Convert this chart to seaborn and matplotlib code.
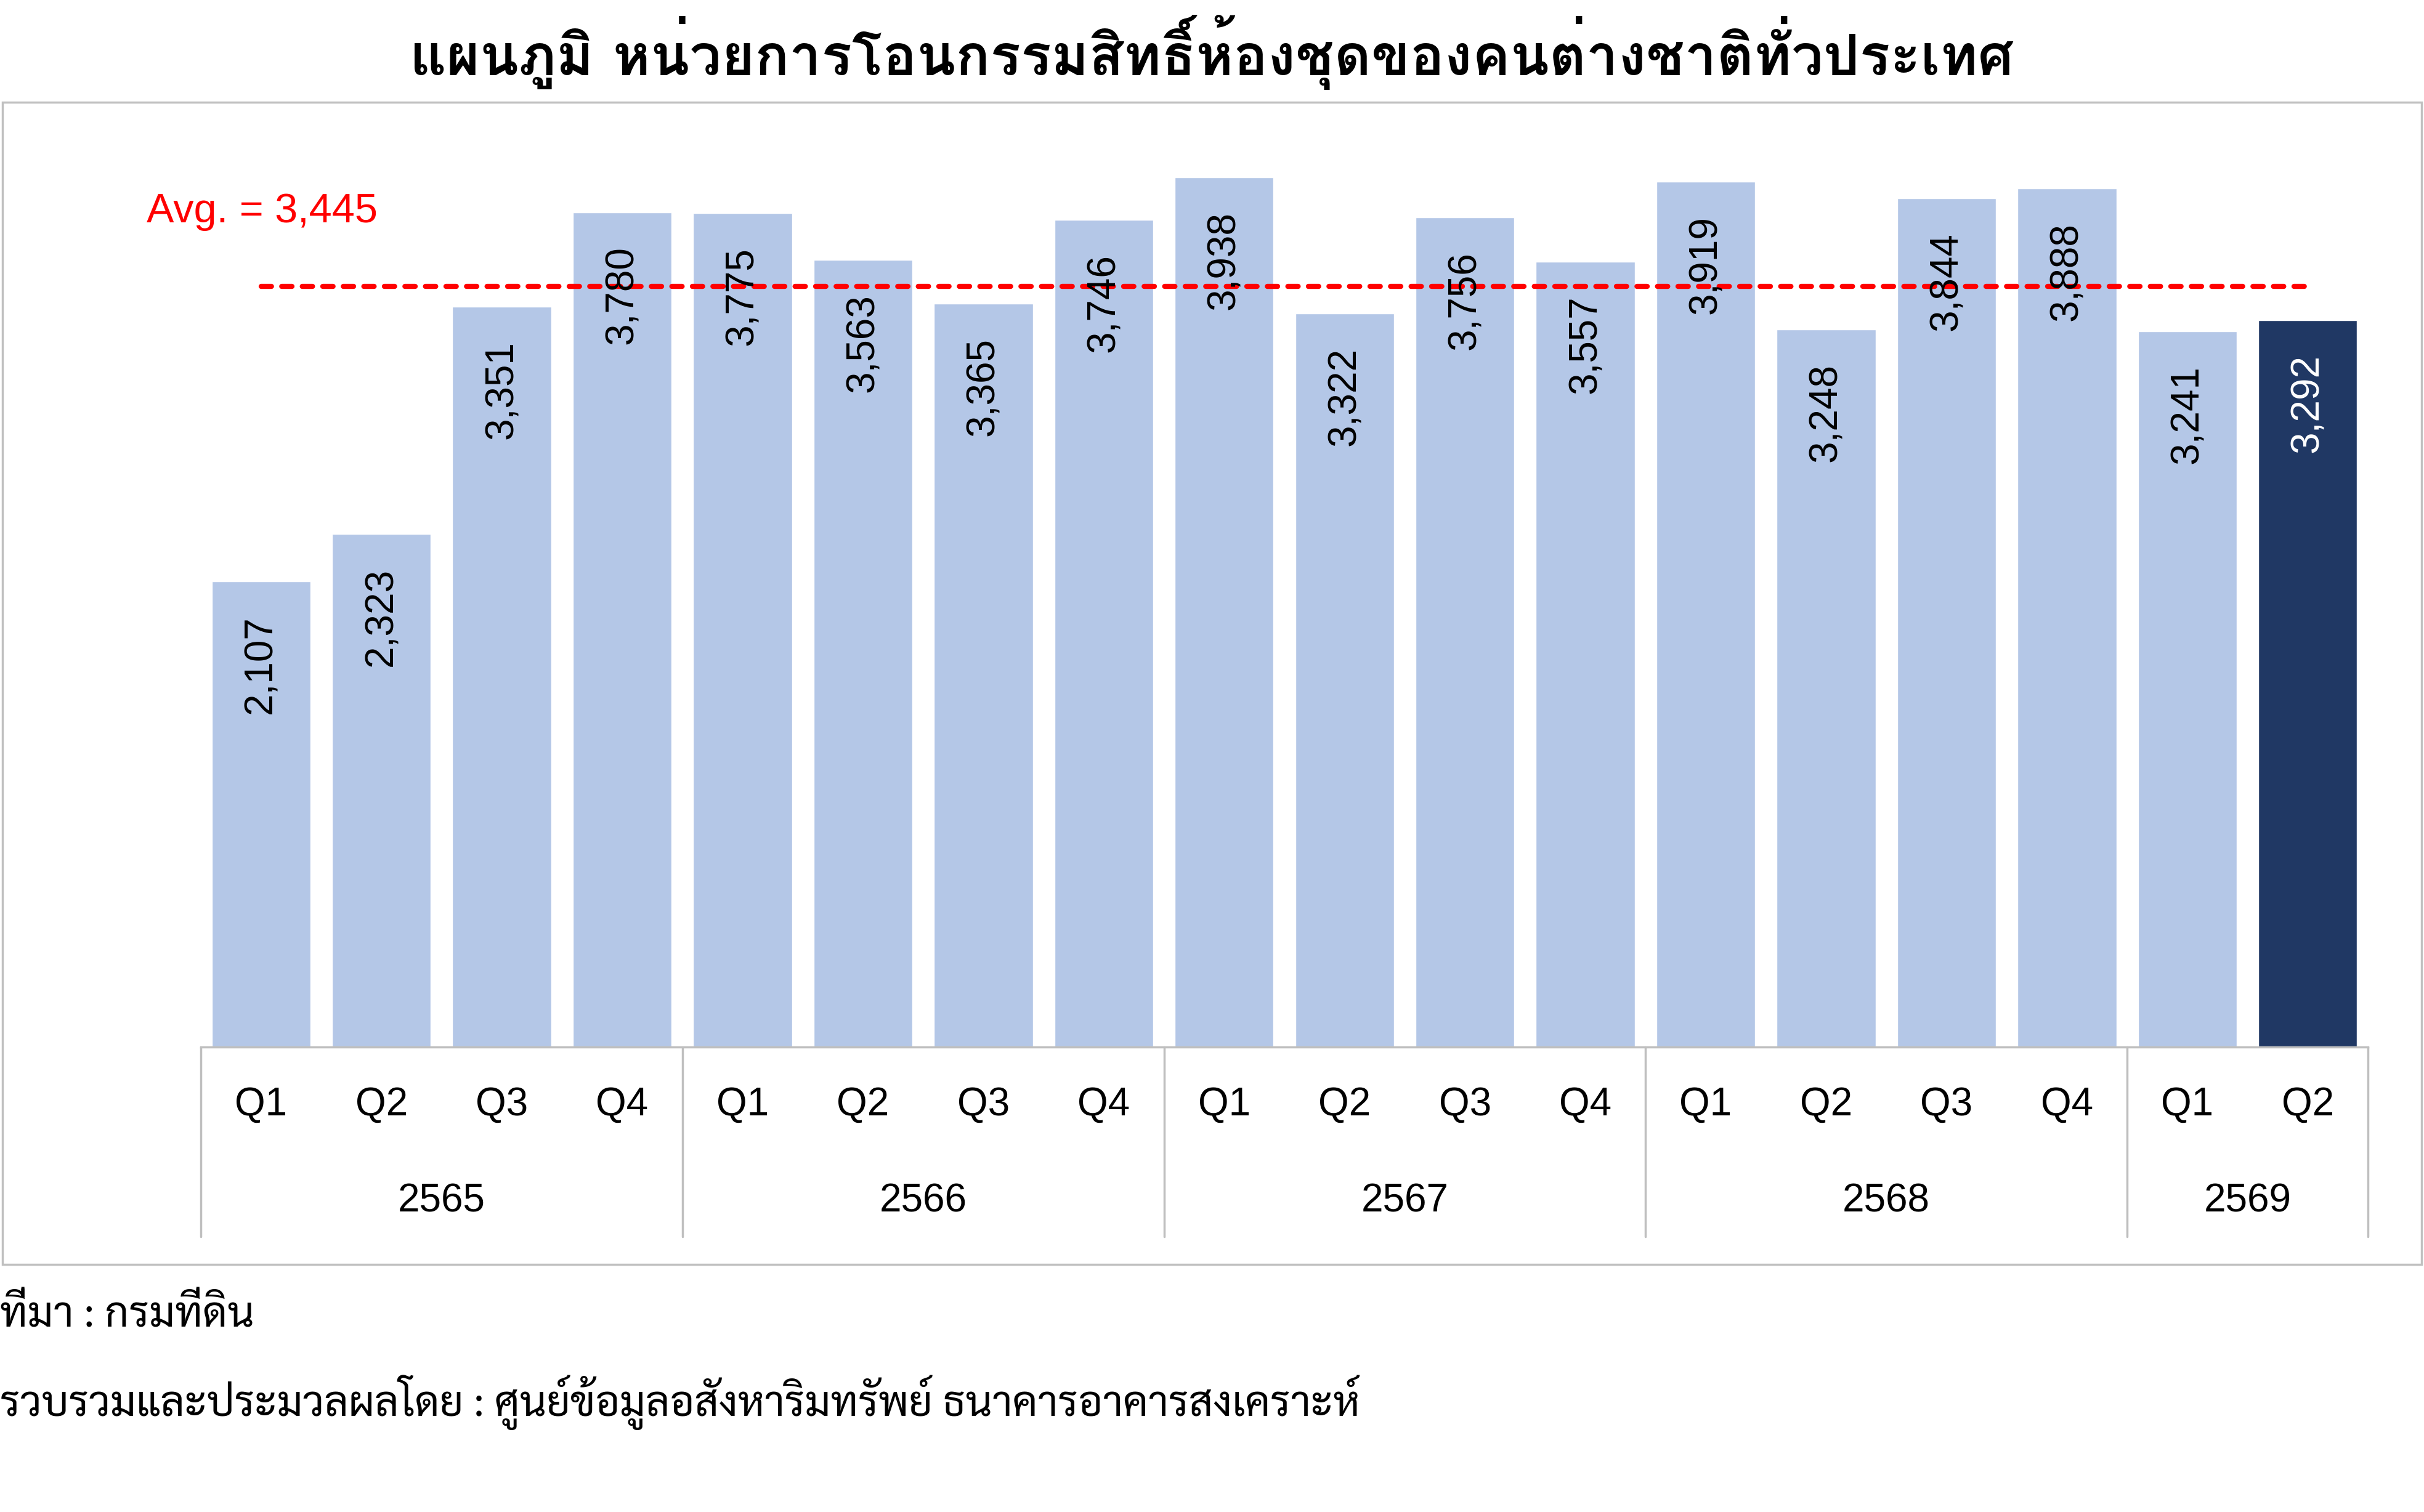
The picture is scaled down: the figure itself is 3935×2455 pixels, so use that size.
import matplotlib
matplotlib.use('Agg')
import matplotlib.pyplot as plt
import matplotlib.transforms as mtransforms
from matplotlib import font_manager
from matplotlib.patches import Rectangle
import seaborn as sns
import pandas as pd

# data
years = ['2565', '2566', '2567', '2568', '2569']
quarters = ['Q1', 'Q2', 'Q3', 'Q4', 'Q1', 'Q2', 'Q3', 'Q4', 'Q1', 'Q2', 'Q3', 'Q4',
            'Q1', 'Q2', 'Q3', 'Q4', 'Q1', 'Q2']
year_of_bar = ['2565'] * 4 + ['2566'] * 4 + ['2567'] * 4 + ['2568'] * 4 + ['2569'] * 2
units = [2107, 2323, 3351, 3780, 3775, 3563, 3365, 3746, 3938, 3322, 3756, 3557,
         3919, 3248, 3844, 3888, 3241, 3292]
avg_units = 3445

title = 'แผนภูมิ หน่วยการโอนกรรมสิทธิ์ห้องชุดของคนต่างชาติทั่วประเทศ'
source1 = 'ที่มา : กรมที่ดิน'
source2 = 'รวบรวมและประมวลผลโดย : ศูนย์ข้อมูลอสังหาริมทรัพย์ ธนาคารอาคารสงเคราะห์'

LIGHT = '#B4C7E7'
DARK = '#203864'
GRID_GRAY = '#BFBFBF'

fonts = font_manager.fontManager.ttflist
installed = set(f.name for f in fonts)
bold_ok = set(f.name for f in fonts
              if (f.weight if isinstance(f.weight, int) else 700 if 'bold' in str(f.weight) else 400) >= 700)


def pick(prefs, need_bold=False):
    for p in prefs:
        if p in installed and (not need_bold or p in bold_ok):
            return p
    return 'DejaVu Sans'


title_font = pick(['Loma', 'Noto Sans Thai Looped', 'IBM Plex Sans Thai Looped', 'Sarabun',
                   'Garuda', 'Noto Sans Thai'], need_bold=True)
note_font = pick(['Sarabun', 'Noto Sans Thai Looped', 'Loma'])

sns.set_theme(style='white')
plt.rcParams['font.family'] = ['Liberation Sans', 'DejaVu Sans']
plt.rcParams['text.color'] = 'black'

df = pd.DataFrame({'key': [f'{y} {q}' for y, q in zip(year_of_bar, quarters)],
                   'units': units})
colors = [LIGHT] * (len(units) - 1) + [DARK]

fig = plt.figure(figsize=(39.35, 24.55), dpi=100)
W, H = 3935, 2455

# outer frame of chart area
fig.patches.append(Rectangle((0.001, 1 - 2053 / H), 0.998, (2053 - 166) / H,
                             transform=fig.transFigure, fill=False,
                             edgecolor='#C0C0C0', linewidth=2.5))

ymax = 4200
ax = fig.add_axes([326 / W, 1 - 1700 / H, (3844 - 326) / W, (1700 - 194) / H])
sns.barplot(data=df, x='key', y='units', hue='key', palette=colors, legend=False,
            width=0.82, ax=ax, saturation=1)
ax.set_xlim(-0.5, len(units) - 0.5)
ax.set_ylim(0, ymax)
ax.set_xlabel('')
ax.set_ylabel('')
ax.set_xticks([])
ax.set_yticks([])
for s in ['top', 'right', 'left']:
    ax.spines[s].set_visible(False)
ax.spines['bottom'].set_color(GRID_GRAY)
ax.spines['bottom'].set_linewidth(2.5)
ax.patch.set_alpha(0)

# value labels, rotated inside the bars
off = mtransforms.offset_copy(ax.transData, fig=fig, x=0, y=-55, units='dots')
for i, v in enumerate(units):
    ax.text(i, v, f'{v:,}', rotation=90, ha='center', va='top', transform=off,
            fontsize=46, color='white' if i == len(units) - 1 else 'black')

# average line
ax.plot([0, len(units) - 1], [avg_units, avg_units], color='#FF0000', linewidth=6,
        linestyle=(0, (2, 2)), dash_capstyle='round')
fig.text(238 / W, 1 - 344 / H, f'Avg. = {avg_units:,}', color='#FF0000',
         fontsize=48, ha='left', va='center')

# two-level category axis
blend = mtransforms.blended_transform_factory(ax.transData, ax.transAxes)
ax_h = 1700 - 194
for i, q in enumerate(quarters):
    ax.text(i, -(1794 - 1700) / ax_h, q, transform=blend, ha='center', va='center',
            fontsize=46)
bounds = [-0.5]
for y in years:
    idx = [i for i, yy in enumerate(year_of_bar) if yy == y]
    ax.text((idx[0] + idx[-1]) / 2, -(1950 - 1700) / ax_h, y, transform=blend,
            ha='center', va='center', fontsize=46)
    bounds.append(idx[-1] + 0.5)
for b in bounds:
    ax.plot([b, b], [0, -(2008 - 1700) / ax_h], transform=blend, color=GRID_GRAY,
            linewidth=2.5, clip_on=False)

# title and source notes in Thai fonts
t = fig.text(0.5, 1 - 85 / H, title, ha='center', va='center', fontsize=60,
             fontweight='bold', family=[title_font, 'DejaVu Sans'])
s1 = fig.text(0, 1 - 2137 / H, source1, ha='left', va='center', fontsize=50,
              family=[note_font, 'DejaVu Sans'])
s2 = fig.text(0, 1 - 2277 / H, source2, ha='left', va='center', fontsize=50,
              family=[note_font, 'DejaVu Sans'])

# fit text widths to the target layout
fig.canvas.draw()
r = fig.canvas.get_renderer()
for txt, target in [(t, 2605), (s1, 413), (s2, 2210)]:
    w = txt.get_window_extent(r).width
    txt.set_fontsize(txt.get_fontsize() * target / w)

fig.savefig('out.png', dpi=100)
